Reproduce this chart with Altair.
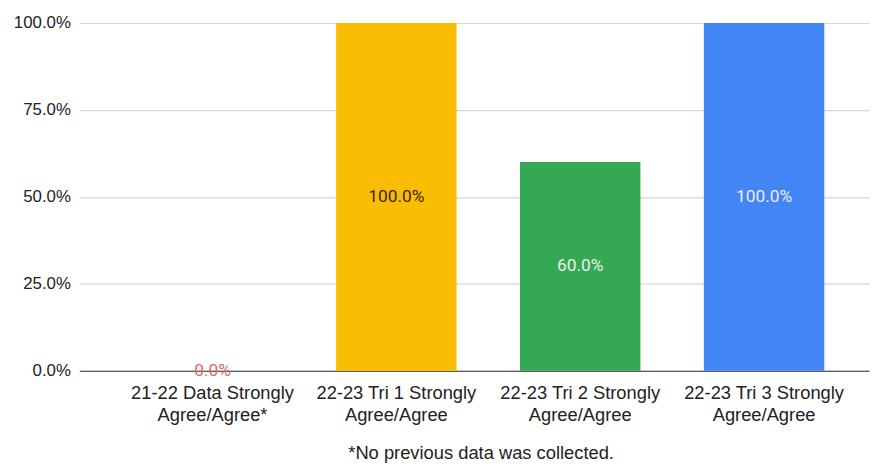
import altair as alt
import pandas as pd

categories = [
    "21-22 Data Strongly Agree/Agree*",
    "22-23 Tri 1 Strongly Agree/Agree",
    "22-23 Tri 2 Strongly Agree/Agree",
    "22-23 Tri 3 Strongly Agree/Agree",
]
values = [0.0, 1.0, 0.6, 1.0]
bar_colors = ["#4285F4", "#FBBC04", "#34A853", "#4285F4"]
label_colors = ["#E06666", "#3a2a10", "#eeeeee", "#eeeeee"]
y_ticks = [0, 0.25, 0.5, 0.75, 1.0]
footnote = "*No previous data was collected."

df = pd.DataFrame({"category": categories, "value": values})

x = alt.X(
    "category:N",
    sort=categories,
    title=None,
    scale=alt.Scale(paddingInner=0.345, paddingOuter=0.32, align=0.62),
    axis=alt.Axis(
        labelAngle=0,
        labelFont="Liberation Sans",
        labelFontSize=18.5,
        labelColor="#222222",
        labelLineHeight=22,
        labelPadding=13,
        labelBaseline="top",
        labelExpr="[slice(datum.label, 0, indexof(datum.label, ' Agree')), slice(datum.label, indexof(datum.label, ' Agree') + 1)]",
        ticks=False,
        domainColor="#333333",
        domainWidth=1.2,
        grid=False,
    ),
)

y_scale = alt.Scale(domain=[0, 1], nice=False)

bars = alt.Chart(df).mark_bar().encode(
    x=x,
    y=alt.Y(
        "value:Q",
        scale=y_scale,
        title=None,
        axis=alt.Axis(
            values=y_ticks,
            format=".1%",
            labelFont="Liberation Sans",
            labelFontSize=17,
            labelColor="#222222",
            labelPadding=9,
            ticks=False,
            domain=False,
            gridColor="#d6d6d6",
            gridWidth=1.2,
        ),
    ),
    color=alt.Color(
        "category:N",
        sort=categories,
        scale=alt.Scale(domain=categories, range=bar_colors),
        legend=None,
    ),
)

labels = alt.Chart(df).transform_calculate(
    mid="datum.value / 2"
).mark_text(
    font="Roboto", fontSize=17.5, baseline="middle", align="center"
).encode(
    x=alt.X("category:N", sort=categories),
    y=alt.Y("mid:Q", scale=y_scale),
    text=alt.Text("value:Q", format=".1%"),
    color=alt.Color(
        "category:N",
        sort=categories,
        scale=alt.Scale(domain=categories, range=label_colors),
        legend=None,
    ),
)

chart = (
    alt.layer(bars, labels)
    .resolve_scale(color="independent")
    .properties(
        width=797,
        height=351,
        autosize=alt.AutoSizeParams(type="none"),
        padding={"left": 72, "top": 13, "right": 1, "bottom": 93},
        title=alt.TitleParams(
            footnote,
            orient="bottom",
            anchor="middle",
            font="Liberation Sans",
            fontSize=18.5,
            fontWeight="normal",
            color="#222222",
            offset=21,
            dx=7,
        ),
    )
    .configure_view(stroke=None)
)

chart.save("out.html", embed_options={"renderer": "svg", "actions": False})
